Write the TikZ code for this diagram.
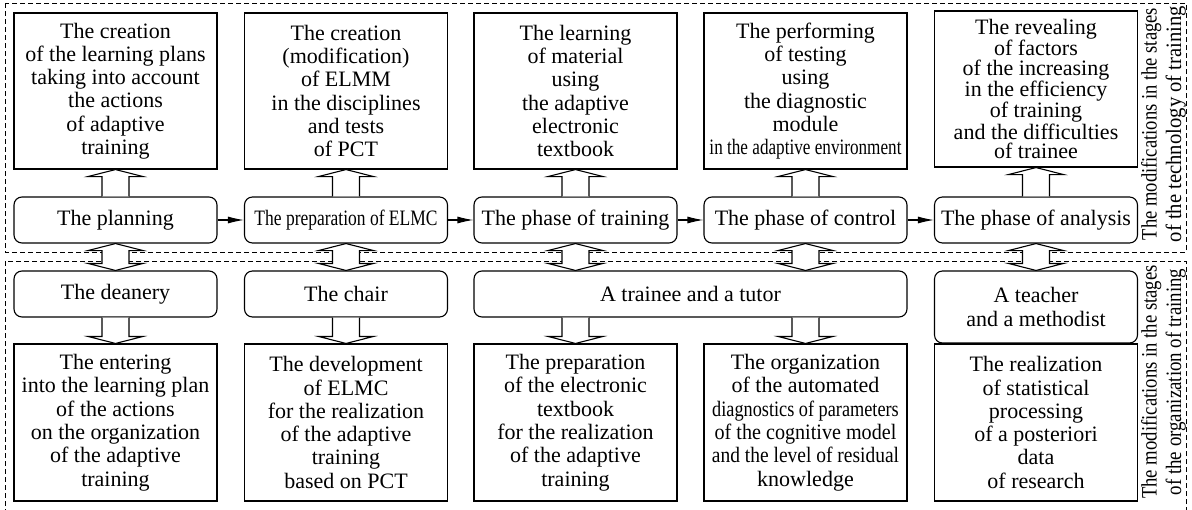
\documentclass[tikz,border=0pt]{standalone}
\usepackage{fontspec}
\usepackage{graphicx}
\setmainfont{Liberation Serif}
\usetikzlibrary{arrows.meta,calc}
\tikzset{
 box/.style={draw, line width=1.1pt, minimum width=203pt, minimum height=156pt, inner sep=0pt, align=center, font=\fontsize{22}{23.3}\selectfont},
 rbox/.style={draw, line width=1.1pt, rounded corners=8pt, minimum width=203pt, minimum height=46pt, inner sep=0pt, align=center, font=\fontsize{22}{23.3}\selectfont},
 frame/.style={draw, dash pattern=on 5pt off 3pt, line width=0.9pt},
 harrow/.style={draw, fill=white, line width=1.1pt, line join=miter},
 flow/.style={-{Latex[length=16pt,width=7pt]}, line width=1.1pt},
 side/.style={rotate=90, align=center, inner sep=0pt, font=\fontsize{22}{24.5}\selectfont}
}
\newcommand\arrUp[2]{\filldraw[harrow] let \p1=(#1), \p2=(#2) in (\x1-13.5pt,\y1) -- (\x1-13.5pt,\y2-7pt) -- (\x1-27.5pt,\y2-7pt) -- (\x1,\y2) -- (\x1+27.5pt,\y2-7pt) -- (\x1+13.5pt,\y2-7pt) -- (\x1+13.5pt,\y1);}
\newcommand\arrDown[2]{\filldraw[harrow] let \p1=(#1), \p2=(#2) in (\x1-13.5pt,\y1) -- (\x1-13.5pt,\y2+7pt) -- (\x1-27.5pt,\y2+7pt) -- (\x1,\y2) -- (\x1+27.5pt,\y2+7pt) -- (\x1+13.5pt,\y2+7pt) -- (\x1+13.5pt,\y1);}
\newcommand\arrBoth[2]{\filldraw[harrow] let \p1=(#1), \p2=(#2) in (\x1-13.5pt,\y1-7pt) -- (\x1-27.5pt,\y1-7pt) -- (\x1,\y1) -- (\x1+27.5pt,\y1-7pt) -- (\x1+13.5pt,\y1-7pt) -- (\x1+13.5pt,\y2+7pt) -- (\x1+27.5pt,\y2+7pt) -- (\x1,\y2) -- (\x1-27.5pt,\y2+7pt) -- (\x1-13.5pt,\y2+7pt) -- cycle;}
\begin{document}
\begin{tikzpicture}[x=1pt,y=-1pt]
\useasboundingbox (0,0) rectangle (1192,509);
\draw[frame] (5,3) rectangle (1186,252);
\draw[frame] (5,261) rectangle (1186,520);

% top row
\node[box] (t1) at (115.5,91) {The creation\\of the learning plans\\taking into account\\the actions\\of adaptive\\training};
\node[box] (t2) at (346,91) {The creation\\(modification)\\of ELMM\\in the disciplines\\and tests\\of PCT};
\node[box] (t3) at (575.5,91) {The learning\\of material\\using\\the adaptive\\electronic\\textbook};
\node[box] (t4) at (805.5,91) {The performing\\of testing\\using\\the diagnostic\\module\\\scalebox{0.78}[1]{in the adaptive environment}};
\node[box, font=\fontsize{22}{19.8}\selectfont] (t5) at (1036,89) {The revealing\\of factors\\of the increasing\\in the efficiency\\of training\\and the difficulties\\of trainee};

% phase row
\node[rbox] (p1) at (115.5,220) {The planning};
\node[rbox] (p2) at (346,220) {\scalebox{0.795}[1]{The preparation of ELMC}};
\node[rbox] (p3) at (575.5,220) {The phase of training};
\node[rbox] (p4) at (805.5,220) {The phase of control};
\node[rbox] (p5) at (1036,220) {The phase of analysis};

% actors row
\node[rbox] (a1) at (115.5,294) {The deanery};
\node[rbox] (a2) at (346,294) {The chair};
\node[rbox, minimum width=433pt] (a3) at (690.5,294) {A trainee and a tutor};
\node[rbox, minimum height=72pt] (a5) at (1036,307) {A teacher\\and a methodist};

% bottom row
\node[box, minimum height=157pt] (b1) at (115.5,422.5) {The entering\\into the learning plan\\of the actions\\on the organization\\of the adaptive\\training};
\node[box, minimum height=157pt] (b2) at (346,422.5) {The development\\of ELMC\\for the realization\\of the adaptive\\training\\based on PCT};
\node[box, minimum height=157pt] (b3) at (575.5,422.5) {The preparation\\of the electronic\\textbook\\for the realization\\of the adaptive\\training};
\node[box, minimum height=157pt] (b4) at (805.5,422.5) {The organization\\of the automated\\\scalebox{0.83}[1]{diagnostics of parameters}\\\scalebox{0.915}[1]{of the cognitive model}\\\scalebox{0.885}[1]{and the level of residual}\\knowledge};
\node[box, minimum height=157pt] (b5) at (1036,422.5) {The realization\\of statistical\\processing\\of a posteriori\\data\\of research};

% side labels
\node[side] (s1) at (1163.5,124) {\scalebox{0.845}[1]{The modifications in the stages}\\\scalebox{0.94}[1]{of the technology of training}};
\node[side] (s2) at (1163.5,382) {\scalebox{0.85}[1]{The modifications in the stages}\\\scalebox{0.86}[1]{of the organization of training}};

% flow arrows
\draw[flow] (p1) -- (p2);
\draw[flow] (p2) -- (p3);
\draw[flow] (p3) -- (p4);
\draw[flow] (p4) -- (p5);

% hollow arrows up
\arrUp{p1.north}{t1.south}
\arrUp{p2.north}{t2.south}
\arrUp{p3.north}{t3.south}
\arrUp{p4.north}{t4.south}
\arrUp{p5.north}{t5.south}

% double arrows
\arrBoth{p1.south}{a1.north}
\arrBoth{p2.south}{a2.north}
\arrBoth{p3.south}{p3.south |- a3.north}
\arrBoth{p4.south}{p4.south |- a3.north}
\arrBoth{p5.south}{a5.north}

% down arrows
\arrDown{a1.south}{b1.north}
\arrDown{a2.south}{b2.north}
\arrDown{b3.north |- a3.south}{b3.north}
\arrDown{b4.north |- a3.south}{b4.north}
\end{tikzpicture}
\end{document}
